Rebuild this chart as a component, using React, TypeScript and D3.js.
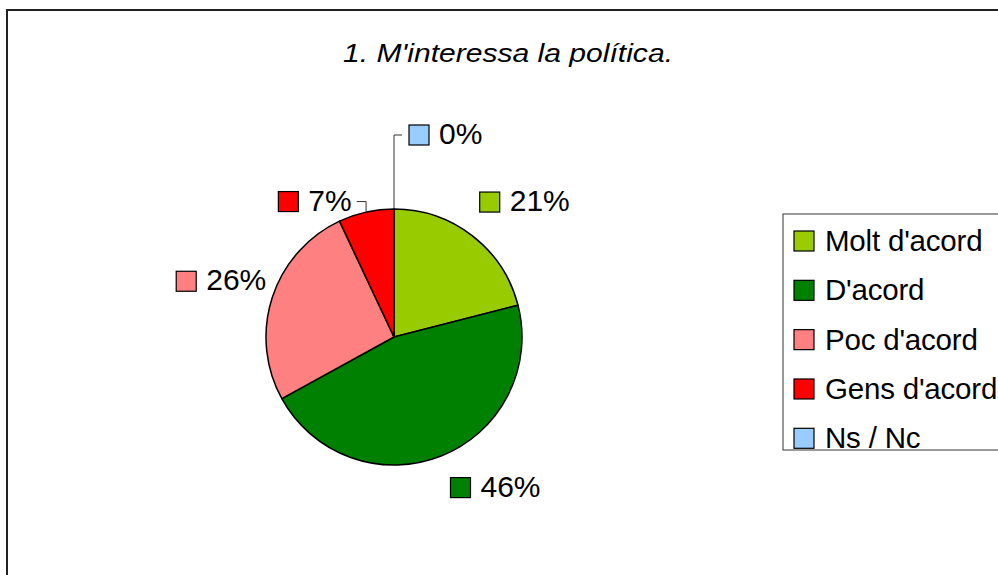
import React from "react";
import * as d3 from "d3";

const categories = ["Molt d'acord", "D'acord", "Poc d'acord", "Gens d'acord", "Ns / Nc"];
const values = [21, 46, 26, 7, 0];
const labelTexts = ["21%", "46%", "26%", "7%", "0%"];
const colors = ["#99CC00", "#008000", "#FF8080", "#FF0000", "#99CCFF"];
const title = "1. M'interessa la política.";

// layout (not data)
const W = 998;
const H = 575;
const CX = 394;
const CY = 337;
const R = 128;
const LABEL_GAP = 20;
const labelNudge: [number, number][] = [[-5, -8], [2, 3], [13, 0], [-10, 19], [15, -44]];
const labelLeader = [false, false, false, true, true];
const FONT = "'Liberation Sans', Arial, sans-serif";

function textW(s: string) {
  // approximate Arial widths at 30px
  let w = 0;
  for (const ch of s) w += ch === "%" ? 0.889 : 0.556;
  return w * 30;
}

export default function App() {
  const pie = d3.pie<number>().sort(null).value((d) => d)(values);
  const arc = d3.arc<d3.PieArcDatum<number>>().innerRadius(0).outerRadius(R);

  const labels = pie.map((p, i) => {
    const mid = (p.startAngle + p.endAngle) / 2;
    const sx = Math.sin(mid);
    const sy = -Math.cos(mid);
    const w = 30 + textW(labelTexts[i]);
    const h = 20;
    const px = sx * (R + LABEL_GAP);
    const py = sy * (R + LABEL_GAP);
    const signX = Math.abs(sx) < 1e-6 ? 1 : Math.sign(sx);
    const signY = Math.abs(sy) < 1e-6 ? 1 : Math.sign(sy);
    const cx = CX + px + (signX * w) / 2 + labelNudge[i][0];
    const cy = CY + py + (signY * h) / 2 + labelNudge[i][1];
    const ax = CX + sx * R;
    const ay = CY + sy * R;
    let leader: string | null = null;
    if (labelLeader[i]) {
      const ex = ax > cx ? cx + w / 2 + 5 : cx - w / 2 - 7;
      leader = `M${ax},${ay}L${ax},${cy}L${ex},${cy}`;
    }
    return { cx, cy, w, leader, i };
  });

  const legendX = 783;
  const legendY = 214;
  const legendH = 236;
  const rowY = d3.scalePoint<number>().domain(d3.range(categories.length)).range([241, 438.3]);

  return (
    <div style={{ position: "absolute", left: 0, top: 0 }}>
      <svg width={W} height={H} style={{ display: "block", background: "#fff" }}>
        <rect x={7} y={10} width={1100} height={700} fill="#fff" stroke="#222" strokeWidth={2} />
        <text
          x={508}
          y={62}
          textAnchor="middle"
          fontFamily={FONT}
          fontStyle="italic"
          fontSize={26.5}
          textLength={330}
          lengthAdjust="spacingAndGlyphs"
          fill="#000"
        >
          {title}
        </text>
        <g transform={`translate(${CX},${CY})`}>
          {pie.map((p, i) => (
            <path key={i} d={arc(p) || ""} fill={colors[i]} stroke="#000" strokeWidth={1.5} strokeLinejoin="round" />
          ))}
        </g>
        {labels.map((l) =>
          l.leader ? <path key={"ld" + l.i} d={l.leader} fill="none" stroke="#333" strokeWidth={1} /> : null
        )}
        {labels.map((l) => (
          <g key={"lb" + l.i}>
            <rect
              x={l.cx - l.w / 2}
              y={l.cy - 10}
              width={20}
              height={20}
              fill={colors[l.i]}
              stroke="#000"
              strokeWidth={1.2}
            />
            <text x={l.cx - l.w / 2 + 30} y={l.cy + 9} fontFamily={FONT} fontSize={30} fill="#000">
              {labelTexts[l.i]}
            </text>
          </g>
        ))}
        <rect x={legendX} y={legendY} width={300} height={legendH} fill="#fff" stroke="#555" strokeWidth={1.2} />
        {categories.map((c, i) => (
          <g key={"lg" + i}>
            <rect x={794} y={rowY(i)! - 10} width={20} height={20} fill={colors[i]} stroke="#000" strokeWidth={1.2} />
            <text x={825} y={rowY(i)! + 10} fontFamily={FONT} fontSize={29.5} fill="#000" letterSpacing={-0.2}>
              {c}
            </text>
          </g>
        ))}
      </svg>
    </div>
  );
}
